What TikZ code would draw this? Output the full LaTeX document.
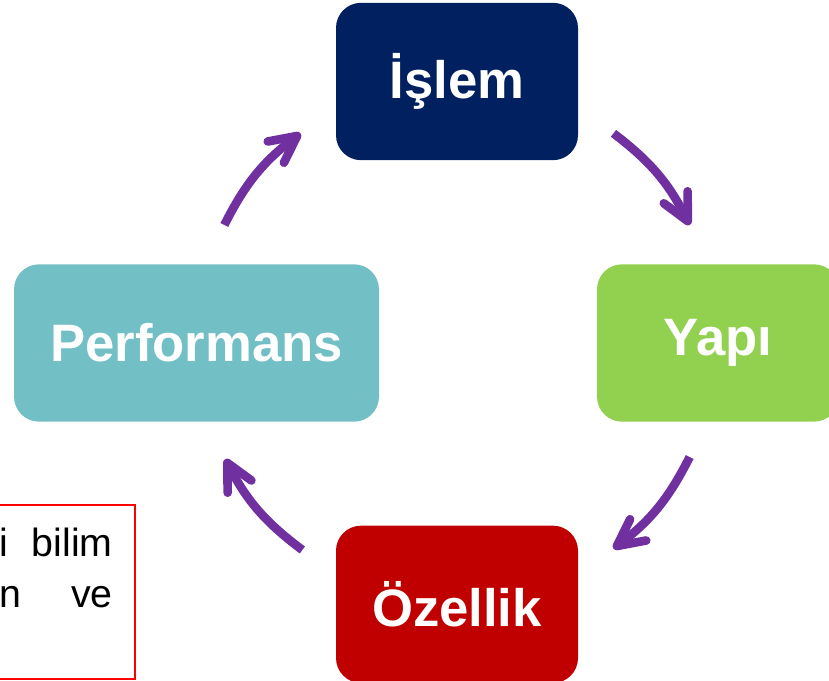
\documentclass[tikz,border=0pt]{standalone}
\usepackage{fontspec}
\setmainfont{Liberation Sans}
\usepackage{xcolor}
\usetikzlibrary{positioning, calc, arrows.meta}
\definecolor{islemblue}{HTML}{002060}
\definecolor{yapigreen}{HTML}{92D050}
\definecolor{perfteal}{HTML}{72BFC5}
\definecolor{ozelred}{HTML}{C00000}
\definecolor{cyclepurple}{HTML}{7030A0}
\tikzset{stage/.style={rounded corners=18.75pt, inner sep=0pt, minimum height=118pt,
  text=white, font=\fontsize{39.5}{45}\selectfont\bfseries}}
\tikzset{flow/.style={cyclepurple, line width=6.5pt, -{Straight Barb[length=20pt, width=20pt, round]}}}
\tikzset{note/.style={inner sep=0pt, font=\fontsize{29.5}{35}\selectfont}}

\begin{document}
\begin{tikzpicture}[x=0.75pt, y=0.75pt]
  \useasboundingbox (0,0) rectangle (829,681);

  \node[stage, fill=islemblue, minimum width=181.5pt] (islem) at (457,599.5) {İşlem};
  \node[stage, fill=yapigreen, minimum width=181.5pt] (yapi) at (718,338) {Yapı};
  \node[stage, fill=ozelred, minimum width=181.5pt] (ozellik) [below=273.75pt of islem] {Özellik};
  \node[stage, fill=perfteal, minimum width=273.75pt] (perf) at (196.5,338) {Performans};

  % arrow ends on a circle round the middle
  \coordinate (hub) at (457,340);
  \coordinate (s1) at ($(hub)+(153.5:260)$);
  \coordinate (e1) at ($(hub)+(127:260)$);
  \coordinate (s2) at ($(hub)+(53:260)$);
  \coordinate (e2) at ($(hub)+(26.5:260)$);
  \coordinate (s3) at ($(hub)+(-26.5:260)$);
  \coordinate (e3) at ($(hub)+(-53:260)$);
  \coordinate (s4) at ($(hub)+(-126.5:260)$);
  \coordinate (e4) at ($(hub)+(-153:260)$);

  \draw[flow] (s1) to[bend left=13] (e1);
  \draw[flow] (s2) to[bend left=13] (e2);
  \draw[flow] (s3) to[bend left=13] (e3);
  \draw[flow] (s4) to[bend left=13] (e4);

  % clipped note box
  \draw[red, line width=1.5pt] (0,176) -- (135,176) -- (135,2) -- (0,2);
  \node[note, anchor=base east] (note1) at (113,124) {\makebox[84.75pt][s]{i bilim}};
  \node[note, anchor=base east] (note2) at (113,73) {\makebox[84.75pt][s]{n ve}};

\end{tikzpicture}
\end{document}
